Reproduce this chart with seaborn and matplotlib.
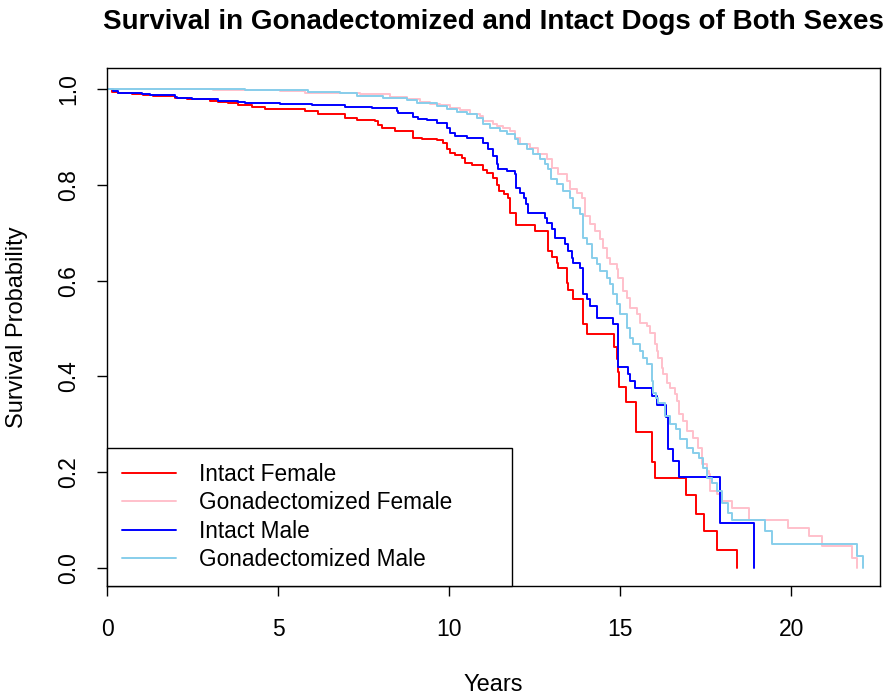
import pandas as pd
import matplotlib
matplotlib.use("Agg")
import matplotlib.pyplot as plt
import seaborn as sns

# Kaplan-Meier step points (years, survival)
intact_female_t = [0, 0.15, 0.32, 0.73, 1.05, 1.35, 1.99, 2.34, 3.01, 3.25, 3.54, 3.83, 4.24, 4.62,
                   5.79, 6.17, 6.96, 7.31, 7.84, 7.92, 8.04, 8.42, 8.95, 9.21, 9.65, 9.82, 9.94,
                   10.03, 10.18, 10.38, 10.47, 10.67, 10.99, 11.11, 11.29, 11.40, 11.46, 11.61,
                   11.73, 11.78, 11.96, 12.51, 12.89, 13.01, 13.16, 13.19, 13.45, 13.48, 13.63,
                   13.92, 14.04, 14.82, 14.91, 14.94, 14.97, 15.18, 15.47, 15.94, 16.02, 16.93,
                   17.22, 17.46, 17.84, 18.42]
intact_female_s = [1.0, 0.9937, 0.9910, 0.9889, 0.9868, 0.9854, 0.9818, 0.9791, 0.9756, 0.9729,
                   0.9708, 0.9660, 0.9624, 0.9576, 0.9541, 0.9478, 0.9401, 0.9359, 0.9332, 0.9248,
                   0.9180, 0.9123, 0.8983, 0.8956, 0.8935, 0.8873, 0.8747, 0.8664, 0.8622, 0.8559,
                   0.8455, 0.8420, 0.8309, 0.8246, 0.8142, 0.7996, 0.7871, 0.7802, 0.7724, 0.7411,
                   0.7161, 0.7035, 0.6618, 0.6493, 0.6374, 0.6257, 0.5956, 0.5797, 0.5610, 0.5094,
                   0.4879, 0.4620, 0.4363, 0.4098, 0.3779, 0.3472, 0.2846, 0.2213, 0.1885, 0.1518,
                   0.1134, 0.0772, 0.0376, 0.0]

gonad_female_t = [0, 3.10, 5.06, 5.79, 7.40, 8.27, 8.77, 9.15, 9.44, 9.74, 10.03, 10.32, 10.61,
                  10.91, 10.99, 11.29, 11.40, 11.58, 11.78, 11.93, 12.08, 12.37, 12.61, 12.87,
                  13.01, 13.19, 13.45, 13.54, 13.74, 13.89, 13.98, 14.12, 14.27, 14.42, 14.50,
                  14.62, 14.71, 14.91, 14.94, 15.09, 15.20, 15.29, 15.50, 15.58, 15.79, 15.88,
                  16.02, 16.08, 16.11, 16.23, 16.26, 16.37, 16.46, 16.61, 16.67, 16.73, 16.84,
                  16.96, 17.13, 17.28, 17.40, 17.54, 17.60, 17.63, 17.84, 17.98, 18.27, 18.78,
                  19.91, 20.53, 20.91, 21.78, 21.93]
gonad_female_s = [1.0, 0.9979, 0.9958, 0.9923, 0.9889, 0.9839, 0.9785, 0.9735, 0.9693, 0.9666,
                  0.9610, 0.9555, 0.9484, 0.9436, 0.9332, 0.9263, 0.9228, 0.9192, 0.9123, 0.8983,
                  0.8846, 0.8775, 0.8637, 0.8532, 0.8357, 0.8219, 0.8079, 0.7906, 0.7835, 0.7731,
                  0.7349, 0.7175, 0.7035, 0.6862, 0.6687, 0.6478, 0.6340, 0.6236, 0.6061, 0.5783,
                  0.5643, 0.5434, 0.5296, 0.5121, 0.5052, 0.4912, 0.4670, 0.4530, 0.4390, 0.4182,
                  0.4044, 0.3868, 0.3764, 0.3626, 0.3486, 0.3209, 0.3069, 0.2860, 0.2720, 0.2511,
                  0.2165, 0.2025, 0.1956, 0.1608, 0.1539, 0.1399, 0.1259, 0.1002, 0.0842, 0.0668,
                  0.0459, 0.0215, 0.0]

intact_male_t = [0, 0.18, 0.32, 1.02, 1.26, 1.99, 2.05, 2.49, 3.25, 3.83, 4.04, 5.06, 5.99, 6.96,
                 7.75, 8.48, 8.51, 8.95, 9.09, 9.36, 9.65, 9.94, 10.03, 10.18, 10.53, 10.99, 11.14,
                 11.29, 11.40, 11.43, 11.70, 11.93, 11.96, 12.08, 12.19, 12.25, 12.31, 12.81, 12.87,
                 13.01, 13.10, 13.39, 13.48, 13.60, 13.63, 13.83, 13.92, 14.04, 14.12, 14.33, 14.80,
                 14.94, 15.23, 15.29, 15.44, 15.94, 16.08, 16.35, 16.40, 16.55, 16.73, 17.92, 18.92]
intact_male_s = [1.0, 0.9958, 0.9923, 0.9889, 0.9868, 0.9839, 0.9806, 0.9785, 0.9749, 0.9729,
                 0.9701, 0.9681, 0.9660, 0.9631, 0.9610, 0.9541, 0.9505, 0.9415, 0.9367, 0.9347,
                 0.9297, 0.9192, 0.9088, 0.9019, 0.8971, 0.8879, 0.8741, 0.8601, 0.8428, 0.8324,
                 0.8278, 0.8219, 0.7927, 0.7835, 0.7731, 0.7593, 0.7418, 0.7313, 0.7209, 0.7071,
                 0.6883, 0.6758, 0.6618, 0.6478, 0.6374, 0.6269, 0.5714, 0.5610, 0.5470, 0.5225,
                 0.5088, 0.4196, 0.4044, 0.3904, 0.3752, 0.3591, 0.3403, 0.3152, 0.2478, 0.2234,
                 0.1906, 0.0946, 0.0]

gonad_male_t = [0, 4.04, 5.88, 6.81, 7.31, 8.07, 8.77, 9.06, 9.65, 9.94, 10.23, 10.53, 10.82,
                10.99, 11.20, 11.49, 11.70, 11.93, 12.02, 12.28, 12.46, 12.66, 12.81, 12.89, 12.98,
                13.16, 13.33, 13.54, 13.63, 13.83, 13.92, 14.04, 14.18, 14.33, 14.42, 14.62, 14.71,
                14.80, 14.91, 15.00, 15.20, 15.29, 15.38, 15.58, 15.67, 15.79, 15.94, 15.96, 16.05,
                16.11, 16.32, 16.46, 16.64, 16.75, 16.96, 17.13, 17.31, 17.43, 17.54, 17.69, 17.84,
                17.98, 18.16, 18.27, 19.24, 19.44, 21.93, 22.11]
gonad_male_s = [1.0, 0.9973, 0.9937, 0.9910, 0.9854, 0.9818, 0.9770, 0.9714, 0.9645, 0.9576,
                0.9526, 0.9472, 0.9401, 0.9276, 0.9192, 0.9123, 0.9054, 0.8950, 0.8846, 0.8741,
                0.8637, 0.8532, 0.8428, 0.8324, 0.8115, 0.8010, 0.7871, 0.7731, 0.7522, 0.7384,
                0.6896, 0.6758, 0.6478, 0.6340, 0.6200, 0.6061, 0.5923, 0.5714, 0.5505, 0.5296,
                0.5017, 0.4808, 0.4670, 0.4530, 0.4390, 0.4253, 0.3904, 0.3660, 0.3555, 0.3451,
                0.3173, 0.3000, 0.2896, 0.2687, 0.2511, 0.2407, 0.2303, 0.2094, 0.1885, 0.1781,
                0.1608, 0.1363, 0.1154, 0.1002, 0.0772, 0.0495, 0.0251, 0.0]

groups = ["Intact Female", "Gonadectomized Female", "Intact Male", "Gonadectomized Male"]
colors = ["red", "pink", "blue", "skyblue"]

frames = []
for name, t, s in zip(groups,
                      [intact_female_t, gonad_female_t, intact_male_t, gonad_male_t],
                      [intact_female_s, gonad_female_s, intact_male_s, gonad_male_s]):
    frames.append(pd.DataFrame({"Years": t, "Survival": s, "Group": name}))
df = pd.concat(frames, ignore_index=True)

sns.set_style("white")
plt.rcParams["font.family"] = ["Liberation Sans", "DejaVu Sans"]
plt.rcParams["text.color"] = "black"
plt.rcParams["axes.labelcolor"] = "black"
plt.rcParams["xtick.color"] = "black"
plt.rcParams["ytick.color"] = "black"

fig = plt.figure(figsize=(8.96, 6.95), dpi=100)
ax = fig.add_axes([107 / 896, 1 - 586 / 695, 773 / 896, 518 / 695])

sns.lineplot(data=df, x="Years", y="Survival", hue="Group", hue_order=groups,
             palette=colors, estimator=None, errorbar=None, sort=False,
             drawstyle="steps-post", linewidth=1.4, ax=ax)

ax.set_xlim(0, 22.6)
ax.set_ylim(-0.0376, 1.0438)
ax.set_xticks([0, 5, 10, 15, 20])
ax.set_yticks([0.0, 0.2, 0.4, 0.6, 0.8, 1.0])
ax.set_yticklabels(["0.0", "0.2", "0.4", "0.6", "0.8", "1.0"], rotation=90, va="center")
ax.tick_params(axis="both", direction="out", length=7, width=1, color="black",
               labelsize=16.5, bottom=True, left=True)
ax.tick_params(axis="x", pad=16)
ax.tick_params(axis="y", pad=12)
for sp in ax.spines.values():
    sp.set_color("black")
    sp.set_linewidth(1)

ax.set_xlabel("Years", fontsize=17, labelpad=24)
ax.set_ylabel("Survival Probability", fontsize=17, labelpad=21)
ax.set_title("Survival in Gonadectomized and Intact Dogs of Both Sexes",
             fontsize=20, fontweight="bold", pad=28)

leg = ax.legend(loc="lower left", bbox_to_anchor=(0, 0, 405 / 773, 0.3), mode="expand",
                borderaxespad=0, fontsize=16.3, frameon=True, fancybox=False, framealpha=1,
                edgecolor="black", handlelength=2.4, handletextpad=1.0, labelspacing=0.24,
                borderpad=0.65, title=None)
leg.get_frame().set_linewidth(1)

fig.savefig("out.png", dpi=100)
